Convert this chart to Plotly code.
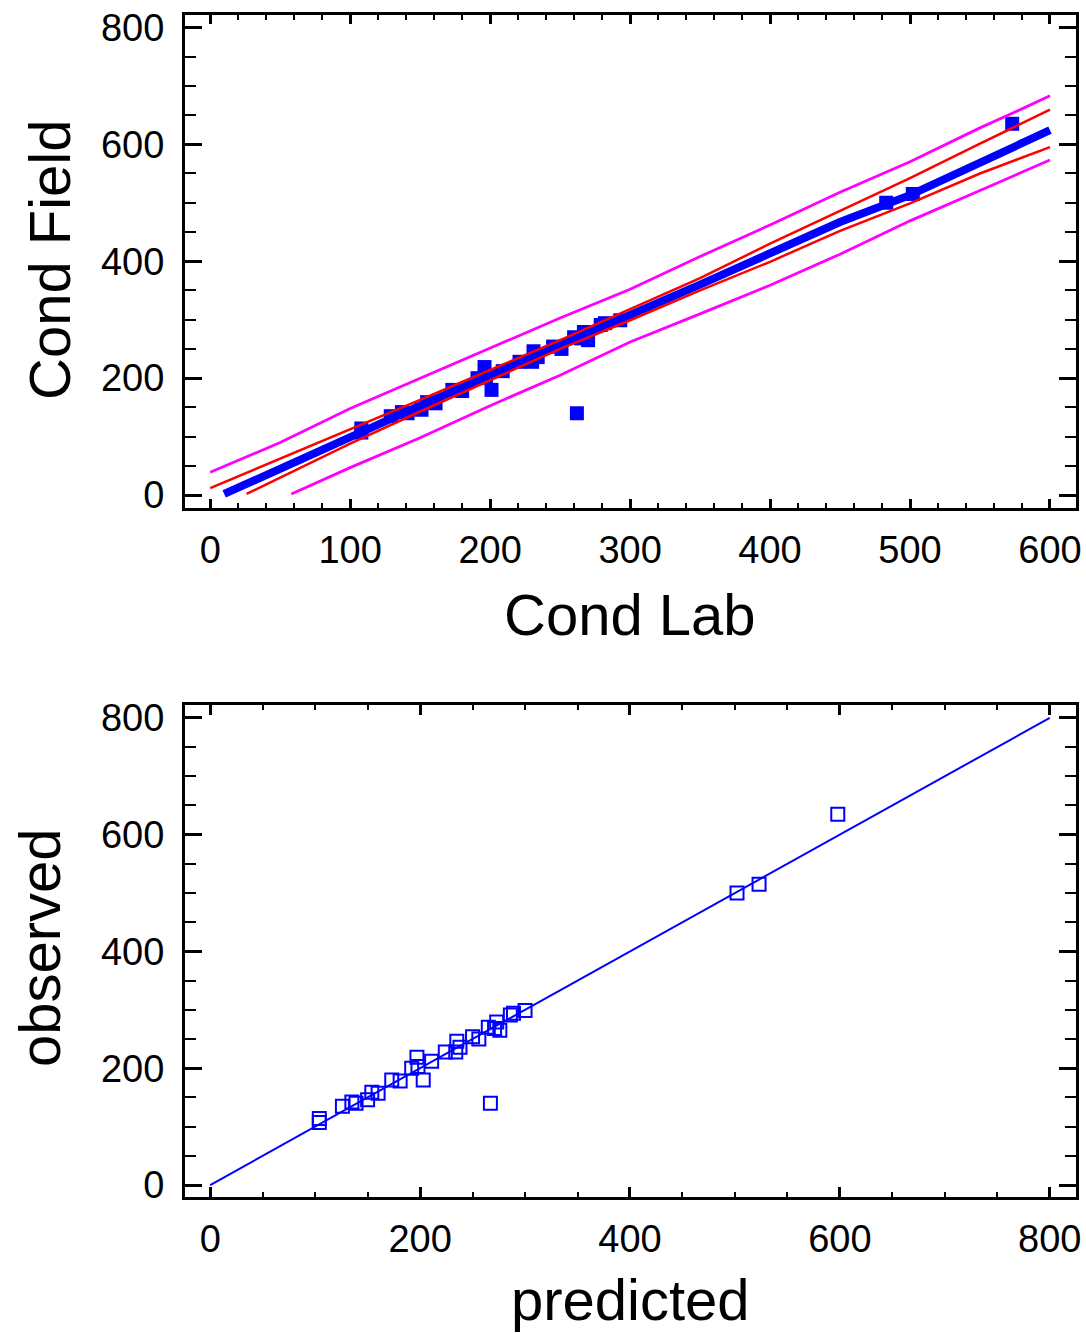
import plotly.graph_objects as go

# ---- data ----
cond_lab = [108, 108, 129, 137, 141, 151, 155, 161, 173, 180, 191, 196, 197, 201, 209,
            221, 231, 234, 230, 245, 251, 262, 260, 265, 270, 267, 279, 282, 293, 483, 502, 573]
cond_field = [114, 107, 135, 142, 140, 146, 159, 157, 180, 178, 200, 219, 203, 180, 212,
              228, 246, 236, 228, 254, 250, 140, 270, 268, 265, 279, 291, 294, 299, 500, 515, 635]
predicted = [104, 104, 126, 135, 139, 150, 154, 160, 173, 181, 192, 197, 198, 203, 211,
             224, 235, 238, 234, 250, 256, 267, 265, 271, 276, 273, 286, 289, 300, 502, 523, 598]

fit_x = [10, 50, 100, 150, 200, 250, 300, 350, 400, 450, 500, 550, 600]
fit_y = [2, 46, 100, 153, 205, 258, 308, 360, 414, 467, 513, 570, 624]

conf_up_x = [0, 50, 100, 150, 200, 250, 300, 350, 400, 450, 500, 550, 600]
conf_up_y = [12, 62, 112, 163, 214, 265, 318, 371, 430, 486, 542, 601, 659]
conf_lo_x = [26, 50, 100, 150, 200, 250, 300, 350, 400, 450, 500, 550, 600]
conf_lo_y = [2, 30, 88, 143, 196, 250, 299, 350, 399, 452, 499, 550, 595]

pred_up_x = [0, 50, 100, 150, 200, 250, 300, 350, 400, 450, 500, 550, 575, 600]
pred_up_y = [39, 90, 148, 200, 252, 303, 352, 408, 462, 518, 570, 628, 655, 683]
pred_lo_x = [58, 100, 150, 200, 250, 300, 350, 400, 450, 500, 550, 600]
pred_lo_y = [2, 47, 98, 153, 205, 262, 310, 359, 412, 469, 521, 573]

diag_x = [0, 800]
diag_y = [0, 800]

BLUE = "#0000FF"
RED = "#FF0000"
MAG = "#FF00FF"
FONT = "Liberation Sans, Arial, sans-serif"

fig = go.Figure()

# top panel
fig.add_trace(go.Scatter(x=cond_lab, y=cond_field, mode="markers",
                         marker=dict(symbol="square", size=14, color=BLUE, line=dict(width=0)),
                         xaxis="x", yaxis="y", showlegend=False))
fig.add_trace(go.Scatter(x=fit_x, y=fit_y, mode="lines",
                         line=dict(color=BLUE, width=8), xaxis="x", yaxis="y", showlegend=False))
for xs, ys in [(conf_up_x, conf_up_y), (conf_lo_x, conf_lo_y)]:
    fig.add_trace(go.Scatter(x=xs, y=ys, mode="lines", line=dict(color=RED, width=2.5),
                             xaxis="x", yaxis="y", showlegend=False))
for xs, ys in [(pred_up_x, pred_up_y), (pred_lo_x, pred_lo_y)]:
    fig.add_trace(go.Scatter(x=xs, y=ys, mode="lines", line=dict(color=MAG, width=2.8),
                             xaxis="x", yaxis="y", showlegend=False))

# bottom panel
fig.add_trace(go.Scatter(x=diag_x, y=diag_y, mode="lines", line=dict(color=BLUE, width=2),
                         xaxis="x2", yaxis="y2", showlegend=False))
fig.add_trace(go.Scatter(x=predicted, y=cond_field, mode="markers",
                         marker=dict(symbol="square-open", size=13, color=BLUE, line=dict(width=2)),
                         xaxis="x2", yaxis="y2", showlegend=False))

W, H = 1086, 1333

def xdom(l, r):
    return [l / W, r / W]

def ydom(t, b):
    return [1 - b / H, 1 - t / H]

common = dict(showgrid=False, zeroline=False, showline=True, linecolor="black", linewidth=3,
              mirror="allticks", ticks="inside", tickcolor="black", tickwidth=2.5,
              automargin=False,
              tickfont=dict(family=FONT, size=38, color="black"))

fig.update_layout(
    width=W, height=H, margin=dict(l=0, r=0, t=0, b=0, autoexpand=False),
    paper_bgcolor="white", plot_bgcolor="white", showlegend=False,
    xaxis=dict(domain=xdom(185, 1076), range=[-18, 618.6], dtick=100, tick0=0, ticklen=9,
               minor=dict(dtick=20, tick0=0, ticklen=5, tickwidth=2, ticks="inside", tickcolor="black"),
               anchor="y", ticklabelstandoff=6, **common),
    yaxis=dict(domain=ydom(15, 508), range=[-22, 821], dtick=200, tick0=0, ticklen=17,
               minor=dict(dtick=50, tick0=0, ticklen=11, tickwidth=2, ticks="inside", tickcolor="black"),
               anchor="x", ticklabelstandoff=10, **common),
    xaxis2=dict(domain=xdom(185, 1076), range=[-24, 825], dtick=200, tick0=0, ticklen=10,
                minor=dict(dtick=50, tick0=0, ticklen=5, tickwidth=2, ticks="inside", tickcolor="black"),
                anchor="y2", ticklabelstandoff=6, **common),
    yaxis2=dict(domain=ydom(705, 1197), range=[-20.5, 822], dtick=200, tick0=0, ticklen=17,
                minor=dict(dtick=50, tick0=0, ticklen=11, tickwidth=2, ticks="inside", tickcolor="black"),
                anchor="x2", ticklabelstandoff=10, **common),
)

tfont = dict(family=FONT, size=58, color="black")
ann = [
    dict(text="Cond Lab", x=630 / W, y=1 - 614 / H, yanchor="middle"),
    dict(text="predicted", x=630 / W, y=0, yanchor="bottom"),
    dict(text="Cond Field", x=49 / W, y=1 - 260 / H, textangle=-90, yanchor="middle"),
    dict(text="observed", x=39 / W, y=1 - 948 / H, textangle=-90, yanchor="middle"),
]
for a in ann:
    fig.add_annotation(xref="paper", yref="paper", showarrow=False, font=tfont,
                       xanchor="center", borderpad=0, **a)

fig.write_html("out.html")
